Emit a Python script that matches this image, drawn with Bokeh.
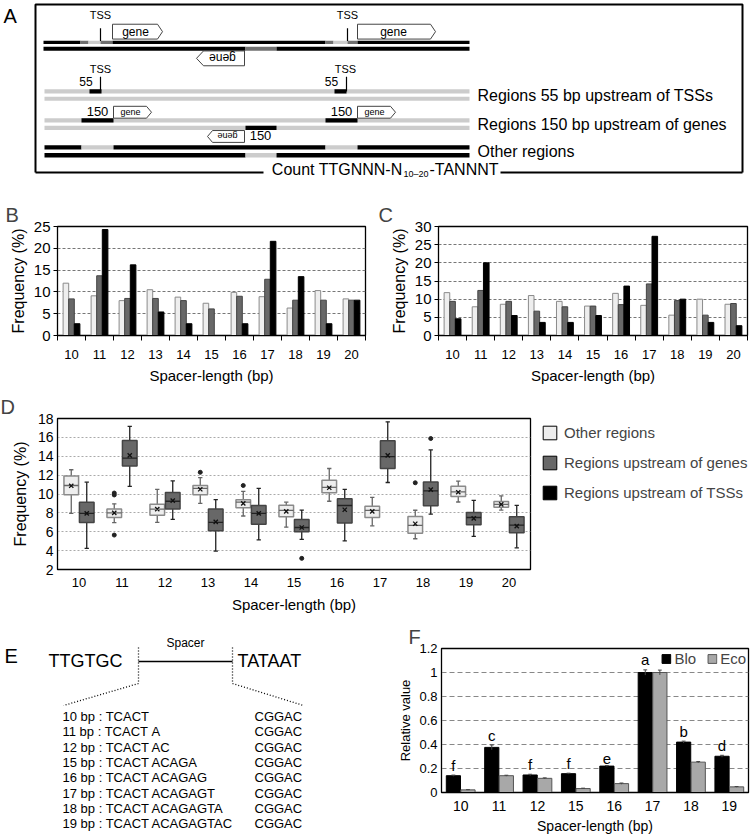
import math
from bokeh.plotting import figure
from bokeh.layouts import column, row
from bokeh.models import Range1d, FixedTicker, ColumnDataSource, Legend, LegendItem
from bokeh.core.properties import value
from bokeh.transform import dodge
from bokeh.embed import file_html
from bokeh.resources import INLINE

FONT = "Liberation Sans"
LIGHT = "#eeeeee"
DARK = "#686868"
BLACK = "#000000"

# ---------------- data ----------------
spacer = list(range(10, 21))

# panel B
b_other = [12.0, 9.1, 8.0, 10.5, 8.8, 7.4, 9.9, 8.9, 6.3, 10.3, 8.4]
b_genes = [8.4, 13.7, 8.5, 8.5, 8.0, 6.1, 9.0, 12.9, 8.1, 8.1, 8.1]
b_tss = [2.7, 24.3, 16.2, 5.4, 2.7, 0.0, 2.7, 21.6, 13.5, 2.7, 8.1]

# panel C
c_other = [11.8, 7.9, 8.6, 11.0, 9.4, 8.1, 11.6, 8.3, 5.6, 10.0, 8.6]
c_genes = [9.4, 12.4, 9.4, 6.7, 7.9, 8.1, 8.5, 14.2, 9.6, 5.6, 8.8]
c_tss = [4.6, 20.0, 5.5, 3.6, 3.6, 5.5, 13.6, 27.3, 10.0, 3.6, 2.7]

# panel D (box statistics)
d_oth_lo = [7.95, 6.97, 7.0, 9.0, 7.67, 6.49, 9.23, 6.63, 5.26, 9.15, 8.3]
d_oth_q1 = [9.93, 7.5, 7.74, 9.93, 8.54, 7.6, 10.14, 7.5, 5.85, 9.74, 8.6]
d_oth_med = [10.9, 8.0, 8.4, 10.6, 9.13, 8.26, 10.7, 8.26, 6.68, 10.22, 8.9]
d_oth_q3 = [11.9, 8.4, 8.92, 10.9, 9.4, 8.8, 11.46, 8.71, 7.62, 10.81, 9.2]
d_oth_hi = [12.57, 8.96, 10.49, 11.74, 10.28, 9.13, 12.7, 9.65, 8.28, 11.37, 9.8]
d_oth_mean = [10.87, 8.0, 8.4, 10.5, 9.0, 8.16, 10.66, 8.16, 6.85, 10.19, 8.9]
d_oth_out_x = [11, 11, 11, 13, 14, 18]
d_oth_out_y = [10.1, 9.9, 5.65, 12.3, 10.9, 11.19]

d_gen_lo = [4.23, 10.8, 7.32, 3.95, 5.13, 5.2, 5.03, 11.22, 7.86, 5.5, 4.3]
d_gen_q1 = [6.97, 12.96, 8.4, 6.1, 6.8, 6.0, 6.94, 12.71, 8.76, 6.75, 5.9]
d_gen_med = [7.95, 13.8, 9.23, 7.0, 7.95, 6.45, 8.78, 13.97, 10.33, 7.51, 6.7]
d_gen_q3 = [9.13, 15.67, 10.17, 8.4, 8.78, 7.29, 9.5, 15.63, 11.26, 8.03, 7.6]
d_gen_hi = [11.25, 17.17, 11.39, 9.4, 10.6, 8.3, 10.49, 17.65, 14.67, 9.32, 8.8]
d_gen_mean = [7.95, 14.1, 9.3, 7.04, 7.95, 6.45, 8.33, 14.1, 10.46, 7.41, 6.6]
d_gen_out_x = [15, 18]
d_gen_out_y = [3.18, 15.88]

# panel E
e_len = [10, 11, 12, 15, 16, 17, 18, 19]
e_insert = ["", "A", "AC", "ACAGA", "ACAGAG", "ACAGAGT", "ACAGAGTA", "ACAGAGTAC"]

# panel F
f_labels = ["10", "11", "12", "15", "16", "17", "18", "19"]
f_blo = [0.14, 0.376, 0.146, 0.157, 0.22, 1.0, 0.42, 0.302]
f_blo_err = [0.005, 0.02, 0.006, 0.004, 0.004, 0.022, 0.008, 0.008]
f_eco = [0.022, 0.14, 0.118, 0.033, 0.074, 1.0, 0.253, 0.047]
f_eco_err = [0.002, 0.004, 0.004, 0.003, 0.005, 0.02, 0.005, 0.003]
f_letters = ["f", "c", "f", "f", "e", "a", "b", "d"]


def txt(p, x, y, t, size, align="left", baseline="middle", angle=0.0, color="black"):
    p.text(x=x, y=y, text=t, text_font=value(FONT), text_font_size=value(size),
           text_align=align, text_baseline=baseline, angle=angle, text_color=color)


def blank(w, h, xr, yr):
    p = figure(width=w, height=h, x_range=xr, y_range=yr, output_backend="svg",
               toolbar_location=None, min_border=0, x_axis_location=None, y_axis_location=None,
               frame_align=False, width_policy="fixed", height_policy="fixed")
    p.grid.visible = False
    p.outline_line_color = None
    return p


def chart(w, h, xr, yr, left, right, top, bottom, letter, offset):
    p = figure(width=w, height=h, x_range=xr, y_range=yr, output_backend="svg",
               toolbar_location=None, min_border_left=left, min_border_right=right,
               min_border_top=top, min_border_bottom=bottom, frame_align=False,
               width_policy="fixed", height_policy="fixed")
    p.title.text = letter
    p.title.text_font = FONT
    p.title.text_font_size = "20px"
    p.title.text_font_style = "normal"
    p.title.align = "left"
    p.title.offset = offset
    p.title.standoff = 2
    p.outline_line_color = "black"
    p.outline_line_width = 1.3
    p.xgrid.visible = False
    for ax in p.axis:
        ax.major_label_text_font = FONT
        ax.axis_label_text_font = FONT
        ax.axis_label_text_font_style = "normal"
        ax.axis_label_text_color = "black"
        ax.major_label_text_color = "black"
        ax.axis_line_color = "black"
        ax.minor_tick_line_color = None
        ax.major_tick_in = 0
    return p


# ---------------- panel A (schematic) ----------------
pa = blank(750, 178, Range1d(0, 750), Range1d(181, 1))
DG, LG = "#707070", "#cccccc"
a_strands = [
    (43, 80, 41.7, 45, BLACK), (80, 88, 41.7, 45, DG), (88, 100, 41.7, 45, LG), (100, 112, 41.7, 45, DG),
    (112, 325, 41.7, 45, BLACK), (325, 333, 41.7, 45, DG), (333, 347, 41.7, 45, LG), (347, 357, 41.7, 45, DG),
    (357, 469, 41.7, 45, BLACK),
    (43, 245, 47.7, 51.7, BLACK), (245, 276, 47.7, 51.7, DG), (276, 469, 47.7, 51.7, BLACK),
    (44, 469, 90.7, 95, LG), (89, 101, 90.7, 95, BLACK), (334, 346, 90.7, 95, BLACK),
    (44, 469, 98.3, 102.3, LG),
    (44, 469, 120, 124.3, LG), (81, 113, 120, 124.3, BLACK), (325, 357, 120, 124.3, BLACK),
    (44, 469, 127.7, 132, LG), (245, 276, 127.7, 132, BLACK),
    (44, 81, 147.3, 151.7, BLACK), (81, 113, 147.3, 151.7, LG), (113, 325, 147.3, 151.7, BLACK),
    (325, 357, 147.3, 151.7, LG), (357, 469, 147.3, 151.7, BLACK),
    (44, 245, 155.3, 159.7, BLACK), (245, 276, 155.3, 159.7, LG), (276, 469, 155.3, 159.7, BLACK),
]
pa.quad(left=[s[0] for s in a_strands], right=[s[1] for s in a_strands],
        top=[s[2] for s in a_strands], bottom=[s[3] for s in a_strands],
        fill_color=[s[4] for s in a_strands], line_color=None)
pa.segment(x0=[100, 347, 100, 346], y0=[29, 29, 78, 78], x1=[100, 347, 100, 346], y1=[42, 42, 93, 93],
           line_color="black", line_width=1.2)
txt(pa, [100, 347, 100, 345], [16, 16, 70, 70], ["TSS"] * 4, "11px", align="center")
pa.patches(xs=[[112, 157, 162, 157, 112], [357, 430, 435, 430, 357], [244, 203, 196, 203, 244],
               [113, 146, 151, 146, 113], [357, 390, 395, 390, 357], [244, 212, 207, 212, 244]],
           ys=[[25, 25, 32.5, 40, 40], [25, 25, 32.5, 40, 40], [52, 52, 59.5, 67, 67],
               [108, 108, 114, 120, 120], [108, 108, 114, 120, 120], [132.5, 132.5, 138.5, 144.5, 144.5]],
           fill_color="white", line_color="#444444", line_width=1)
txt(pa, [135, 393], [33, 33], ["gene", "gene"], "12px", align="center")
txt(pa, [222], [59.5], ["gene"], "12px", align="center", angle=math.pi)
txt(pa, [130, 374], [114, 114], ["gene", "gene"], "9px", align="center")
txt(pa, [227], [138.5], ["gene"], "9px", align="center", angle=math.pi)
txt(pa, [85.5, 331], [83, 83], ["55", "55"], "12px", align="center")
txt(pa, [97, 341, 260], [113, 113, 138], ["150", "150", "150"], "13px", align="center")
txt(pa, [477, 477, 477], [97, 126, 154],
    ["Regions 55 bp upstream of TSSs", "Regions 150 bp upstream of genes", "Other regions"], "16px")
pa.multi_line(xs=[[35, 35, 742, 742], [35, 263], [500, 742]], ys=[[175, 5, 5, 175], [175, 175], [175, 175]],
              line_color="black", line_width=2)
txt(pa, [402], [172], ["Count TTGNNN-N"], "16px", align="right")
txt(pa, [403], [176], ["10\u201320"], "9px")
txt(pa, [429], [172], ["-TANNNT"], "16px")
txt(pa, [3], [17], ["A"], "20px")


# ---------------- panels B and C ----------------
def bar_panel(letter, other, genes, tss, ymax, w, left, right, offset):
    p = chart(w, 208, Range1d(9.5, 20.5), Range1d(0, ymax), left, right, 48, 47, letter, offset)
    src = ColumnDataSource(dict(x=spacer, other=other, genes=genes, tss=tss))
    p.vbar(x=dodge("x", -0.2), top="other", width=0.2, source=src, fill_color=LIGHT, line_color="#8a8a8a")
    p.vbar(x=dodge("x", 0.0), top="genes", width=0.2, source=src, fill_color=DARK, line_color="#444444")
    p.vbar(x=dodge("x", 0.2), top="tss", width=0.2, source=src, fill_color=BLACK, line_color=BLACK)
    p.xaxis.ticker = FixedTicker(ticks=spacer, minor_ticks=[s - 0.5 for s in spacer] + [20.5])
    p.xaxis.major_tick_line_color = None
    p.xaxis.major_tick_out = 0
    p.xaxis.minor_tick_line_color = "black"
    p.xaxis.minor_tick_out = 5
    p.xaxis.minor_tick_in = 0
    p.xaxis.major_label_standoff = 9
    p.xaxis.major_label_text_font_size = "13px"
    p.xaxis.axis_label = "Spacer-length (bp)"
    p.xaxis.axis_label_text_font_size = "15px"
    p.xaxis.axis_label_standoff = 5
    yt = list(range(0, ymax + 1, 5))
    p.yaxis.ticker = FixedTicker(ticks=yt)
    p.yaxis.major_tick_out = 4
    p.yaxis.major_label_standoff = 3
    p.yaxis.major_label_text_font_size = "15px"
    p.yaxis.axis_label = "Frequency (%)"
    p.yaxis.axis_label_text_font_size = "16px"
    p.yaxis.axis_label_standoff = 4
    p.ygrid.ticker = FixedTicker(ticks=yt[1:-1])
    p.ygrid.grid_line_color = "#777777"
    p.ygrid.grid_line_dash = "3 2"
    return p


pb = bar_panel("B", b_other, b_genes, b_tss, 25, 375, 57, 10, -52)
pc = bar_panel("C", c_other, c_genes, c_tss, 30, 375, 63, 3, -60)

# ---------------- panel D ----------------
pdd = chart(535, 229, Range1d(9.5, 20.5), Range1d(2, 18), 57, 5, 32, 43, "D", -57)
pdd.xaxis.ticker = FixedTicker(ticks=spacer)
pdd.xaxis.major_tick_line_color = None
pdd.xaxis.major_tick_out = 0
pdd.xaxis.major_label_standoff = 8
pdd.xaxis.major_label_text_font_size = "13px"
pdd.xaxis.axis_label = "Spacer-length (bp)"
pdd.xaxis.axis_label_text_font_size = "15px"
pdd.xaxis.axis_label_standoff = 6
pdd.yaxis.ticker = FixedTicker(ticks=list(range(2, 19, 2)))
pdd.yaxis.major_tick_line_color = None
pdd.yaxis.major_tick_out = 0
pdd.yaxis.major_label_standoff = 4
pdd.yaxis.major_label_text_font_size = "14px"
pdd.yaxis.axis_label = "Frequency (%)"
pdd.yaxis.axis_label_text_font_size = "16px"
pdd.yaxis.axis_label_standoff = 6
pdd.ygrid.ticker = FixedTicker(ticks=list(range(4, 17, 2)))
pdd.ygrid.grid_line_color = "#aaaaaa"
pdd.ygrid.grid_line_dash = "2 2"


def boxes(p, off, lo, q1, med, q3, hi, mean, ox, oy, fill, edge, wcol):
    s = ColumnDataSource(dict(x=spacer, lo=lo, q1=q1, med=med, q3=q3, hi=hi, mean=mean))
    p.segment(x0=dodge("x", off), y0="lo", x1=dodge("x", off), y1="q1", source=s, line_color=wcol, line_width=1.3)
    p.segment(x0=dodge("x", off), y0="q3", x1=dodge("x", off), y1="hi", source=s, line_color=wcol, line_width=1.3)
    p.segment(x0=dodge("x", off - 0.05), y0="lo", x1=dodge("x", off + 0.05), y1="lo", source=s,
              line_color=wcol, line_width=1.3)
    p.segment(x0=dodge("x", off - 0.05), y0="hi", x1=dodge("x", off + 0.05), y1="hi", source=s,
              line_color=wcol, line_width=1.3)
    p.vbar(x=dodge("x", off), bottom="q1", top="q3", width=0.34, source=s, fill_color=fill,
           line_color=edge, line_width=1.5)
    p.segment(x0=dodge("x", off - 0.17), y0="med", x1=dodge("x", off + 0.17), y1="med", source=s,
              line_color=wcol, line_width=1.3)
    p.scatter(x=dodge("x", off), y="mean", source=s, marker="x", size=6, line_color="#111111", line_width=1.3)
    so = ColumnDataSource(dict(x=ox, y=oy))
    p.scatter(x=dodge("x", off), y="y", source=so, marker="circle", size=4, fill_color="#222222",
              line_color="#222222")


boxes(pdd, -0.18, d_oth_lo, d_oth_q1, d_oth_med, d_oth_q3, d_oth_hi, d_oth_mean, d_oth_out_x, d_oth_out_y,
      LIGHT, "#8a8a8a", "#666666")
boxes(pdd, 0.18, d_gen_lo, d_gen_q1, d_gen_med, d_gen_q3, d_gen_hi, d_gen_mean, d_gen_out_x, d_gen_out_y,
      DARK, "#444444", "#222222")

# legend of panel D (own canvas to the right of the plot)
pleg = blank(215, 229, Range1d(0, 1), Range1d(0, 1))
leg_r = []
for col in [LIGHT, DARK, BLACK]:
    leg_r.append(pleg.vbar(x=[5], top=[5], bottom=[4], width=0.1, fill_color=col, line_color="black",
                           line_width=1))
legd = Legend(items=[LegendItem(label="Other regions", renderers=[leg_r[0]]),
                     LegendItem(label="Regions upstream of genes", renderers=[leg_r[1]]),
                     LegendItem(label="Regions upstream of TSSs", renderers=[leg_r[2]])],
              location=(6, 114), label_text_font=FONT, label_text_font_size="15px",
              glyph_width=17, glyph_height=17, label_height=17, spacing=13, padding=0, margin=0,
              label_standoff=6, border_line_color=None, background_fill_alpha=0)
pleg.add_layout(legd)

# ---------------- panel E (schematic) ----------------
pe = blank(375, 221, Range1d(0, 375), Range1d(836, 615))
txt(pe, [4], [655], ["E"], "20px")
txt(pe, [48], [660], ["TTGTGC"], "18px")
txt(pe, [237], [660], ["TATAAT"], "18px")
txt(pe, [185], [649], ["Spacer"], "12px", align="center", baseline="bottom")
pe.segment(x0=[138], y0=[661], x1=[232], y1=[661], line_color="black", line_width=1.3)
pe.segment(x0=[138, 232, 138, 232], y0=[647, 647, 683, 683], x1=[138, 232, 63, 303], y1=[683, 683, 705, 705],
           line_color="black", line_width=1.3, line_dash="1 2")
e_y = [716 + i * 15.3 for i in range(len(e_len))]
txt(pe, [62] * len(e_len), e_y, ["%d bp : TCACT" % n for n in e_len], "13px")
txt(pe, [151] * len(e_len), e_y, e_insert, "13px")
txt(pe, [254] * len(e_len), e_y, ["CGGAC"] * len(e_len), "13px")

# ---------------- panel F ----------------
pf = chart(375, 221, Range1d(-0.5, 7.5), Range1d(0, 1.2), 66, 2, 33, 43, "F", -33)
fx = list(range(len(f_labels)))
fs = ColumnDataSource(dict(
    x=fx, blo=f_blo, eco=f_eco,
    blo_lo=[v - e for v, e in zip(f_blo, f_blo_err)], blo_hi=[v + e for v, e in zip(f_blo, f_blo_err)],
    eco_lo=[v - e for v, e in zip(f_eco, f_eco_err)], eco_hi=[v + e for v, e in zip(f_eco, f_eco_err)],
    lab_y=[v + e + 0.012 for v, e in zip(f_blo, f_blo_err)], lab=f_letters))
rb = pf.vbar(x=dodge("x", -0.19), top="blo", width=0.37, source=fs, fill_color=BLACK, line_color=BLACK)
re = pf.vbar(x=dodge("x", 0.19), top="eco", width=0.37, source=fs, fill_color="#a8a8a8", line_color="#555555")
for off, lo, hi in [(-0.19, "blo_lo", "blo_hi"), (0.19, "eco_lo", "eco_hi")]:
    pf.segment(x0=dodge("x", off), y0=lo, x1=dodge("x", off), y1=hi, source=fs, line_color="#444444")
    pf.segment(x0=dodge("x", off - 0.05), y0=hi, x1=dodge("x", off + 0.05), y1=hi, source=fs,
               line_color="#444444")
pf.text(x=dodge("x", -0.19), y="lab_y", text="lab", source=fs, text_font=value(FONT),
        text_font_size=value("15px"), text_align="center", text_baseline="bottom")
pf.xaxis.ticker = FixedTicker(ticks=fx)
pf.xaxis.major_label_overrides = {i: l for i, l in zip(fx, f_labels)}
pf.xaxis.major_tick_line_color = None
pf.xaxis.major_tick_out = 0
pf.xaxis.major_label_standoff = 8
pf.xaxis.major_label_text_font_size = "14px"
pf.xaxis.axis_label = "Spacer-length (bp)"
pf.xaxis.axis_label_text_font_size = "14px"
pf.xaxis.axis_label_standoff = 4
f_yt = [0, 0.2, 0.4, 0.6, 0.8, 1, 1.2]
f_yl = ["0", "0.2", "0.4", "0.6", "0.8", "1", "1.2"]
pf.yaxis.ticker = FixedTicker(ticks=f_yt)
pf.yaxis.major_label_overrides = {t: l for t, l in zip(f_yt, f_yl)}
pf.yaxis.major_tick_line_color = None
pf.yaxis.major_tick_out = 0
pf.yaxis.major_label_standoff = 4
pf.yaxis.major_label_text_font_size = "13px"
pf.yaxis.axis_label = "Relative value"
pf.yaxis.axis_label_text_font_size = "13px"
pf.yaxis.axis_label_standoff = 3
pf.ygrid.ticker = FixedTicker(ticks=[0.2, 0.4, 0.6, 0.8, 1])
pf.ygrid.grid_line_color = "#888888"
pf.ygrid.grid_line_dash = "5 3"
pf.ygrid.grid_line_width = 1.2
legf = Legend(items=[LegendItem(label="Blo", renderers=[rb]), LegendItem(label="Eco", renderers=[re])],
              location="top_right", orientation="horizontal", label_text_font=FONT, label_text_font_size="15px",
              glyph_width=11, glyph_height=11, label_height=14, label_standoff=3, spacing=10, padding=1,
              margin=2, border_line_color=None, background_fill_alpha=0)
pf.add_layout(legf)

layout = column(pa, row(pb, pc), row(pdd, pleg), row(pe, pf))
open("out.html", "w").write(file_html(layout, INLINE))
